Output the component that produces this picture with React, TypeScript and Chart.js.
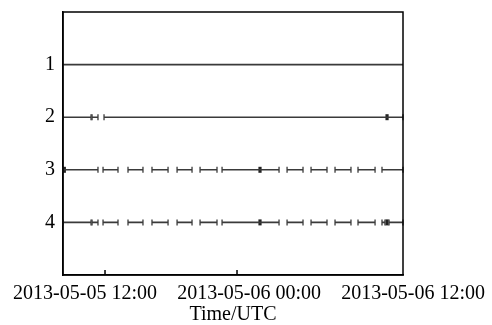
import React, { useEffect, useRef } from "react";
import { Chart, registerables } from "chart.js";

Chart.register(...registerables);

// Time values are hours since 2013-05-05 00:00 UTC
const xMin = 8.18;
const xMax = 39.09;
const xTickMarkHours = [12, 24];
const xLabelHours = [12, 24, 36];
// the reference prints its date labels on a slightly different spacing than its tick marks
const labelAxisMin = 10.39;
const labelAxisMax = 35.26;
const yTickValues = [1, 2, 3, 4];
const seriesNames = ["1", "2", "3", "4"];

const series1Segments = [[8.18, 39.09]];
const series2Segments = [[8.18, 10.73], [10.82, 11.36], [11.91, 39.09]];
const series3Segments = [
  [8.18, 11.36], [11.82, 13.18], [14.09, 15.45], [16.27, 17.73], [18.55, 19.91],
  [20.64, 22.18], [22.64, 27.82], [28.55, 30.0], [30.73, 32.18], [32.91, 34.36],
  [35.0, 36.55], [37.18, 39.09],
];
const series4Segments = [
  [8.18, 10.73], [10.82, 11.36], [11.82, 13.18], [14.09, 15.45], [16.27, 17.73],
  [18.55, 19.91], [20.64, 22.18], [22.64, 27.82], [28.55, 30.0], [30.73, 32.18],
  [32.91, 34.36], [35.0, 36.55], [37.18, 37.45], [37.82, 39.09],
];
const series1Marks: number[] = [];
const series2Marks = [37.64];
const series3Marks = [8.3, 26.09];
const series4Marks = [26.09, 37.64];

const allSegments = [series1Segments, series2Segments, series3Segments, series4Segments];
const allMarks = [series1Marks, series2Marks, series3Marks, series4Marks];

const pad2 = (n: number) => String(n).padStart(2, "0");
const formatHour = (h: number) => {
  const day = 5 + Math.floor(h / 24);
  const hh = Math.round(h % 24);
  return `2013-05-${pad2(day)} ${pad2(hh)}:00`;
};

const LINE_COLOR = "#3a3a3a";
const FONT = { family: "'Liberation Serif', 'Times New Roman', serif", size: 20 };

const frameAndTicks = {
  id: "frameAndTicks",
  afterDraw(chart: any) {
    const { ctx, chartArea } = chart;
    const xs = chart.scales.x;
    ctx.save();
    ctx.strokeStyle = "#000";
    ctx.lineWidth = 1.5;
    ctx.strokeRect(chartArea.left, chartArea.top, chartArea.right - chartArea.left, chartArea.bottom - chartArea.top);
    ctx.beginPath();
    xTickMarkHours.forEach((h) => {
      const px = xs.getPixelForValue(h);
      ctx.moveTo(px, chartArea.bottom);
      ctx.lineTo(px, chartArea.bottom - 5);
    });
    ctx.stroke();
    ctx.restore();
  },
};

export default function App() {
  const ref = useRef<HTMLCanvasElement>(null);
  useEffect(() => {
    document.body.style.margin = "0";
    const datasets: any[] = [];
    allSegments.forEach((segs, k) => {
      const y = k + 1;
      const data: any[] = [];
      segs.forEach((s, i) => {
        data.push({ x: s[0], y });
        data.push({ x: s[1], y });
        if (i < segs.length - 1) data.push({ x: (s[1] + segs[i + 1][0]) / 2, y: null });
      });
      datasets.push({
        label: seriesNames[k],
        data,
        borderColor: LINE_COLOR,
        borderWidth: 1.6,
        spanGaps: false,
        pointStyle: "line",
        rotation: 90,
        pointRadius: k === 0 ? 0 : 3,
        pointBorderWidth: 1.3,
        pointBorderColor: LINE_COLOR,
        pointBackgroundColor: LINE_COLOR,
        clip: false,
      });
    });
    allMarks.forEach((marks, k) => {
      if (!marks.length) return;
      datasets.push({
        label: seriesNames[k] + " marks",
        data: marks.map((x) => ({ x, y: k + 1 })),
        showLine: false,
        pointStyle: "line",
        rotation: 90,
        pointRadius: 3,
        pointBorderWidth: 3.2,
        pointBorderColor: "#222",
        clip: false,
      });
    });
    const chart = new Chart(ref.current!, {
      type: "line",
      data: { datasets },
      options: {
        animation: false,
        responsive: false,
        maintainAspectRatio: false,
        layout: { padding: { top: 12, right: 89, left: 0, bottom: 0 } },
        plugins: { legend: { display: false }, tooltip: { enabled: false } },
        scales: {
          x: {
            type: "linear",
            position: "bottom",
            min: xMin,
            max: xMax,
            afterBuildTicks: (axis: any) => {
              axis.ticks = xTickMarkHours.map((v) => ({ value: v }));
            },
            afterFit: (axis: any) => {
              axis.height = 0;
              axis.paddingLeft = 0;
              axis.paddingRight = 0;
            },
            grid: { display: false, drawTicks: false },
            border: { display: true, color: "#000", width: 1.5 },
            ticks: { display: false },
          },
          xl: {
            type: "linear",
            position: "bottom",
            min: labelAxisMin,
            max: labelAxisMax,
            afterBuildTicks: (axis: any) => {
              axis.ticks = xLabelHours.map((v) => ({ value: v }));
            },
            afterFit: (axis: any) => {
              axis.height = 50;
              axis.paddingLeft = 0;
              axis.paddingRight = 0;
            },
            grid: { display: false, drawTicks: false },
            border: { display: false },
            ticks: {
              color: "#000",
              font: FONT,
              padding: 7,
              maxRotation: 0,
              autoSkip: false,
              callback: (v: any) => formatHour(Number(v)),
            },
            title: { display: true, text: "Time/UTC", color: "#000", font: FONT, padding: { top: 0, bottom: -2 } },
          },
          y: {
            type: "linear",
            min: 0,
            max: 5,
            reverse: true,
            afterBuildTicks: (axis: any) => {
              axis.ticks = yTickValues.map((v) => ({ value: v }));
            },
            afterFit: (axis: any) => {
              axis.width = 63;
              axis.paddingTop = 0;
              axis.paddingBottom = 0;
            },
            grid: { display: false, drawTicks: false },
            border: { display: true, color: "#000", width: 1.5 },
            ticks: { color: "#000", font: FONT, padding: 8 },
          },
        },
      },
      plugins: [frameAndTicks],
    } as any);
    return () => chart.destroy();
  }, []);
  return (
    <div style={{ width: 492, height: 325 }}>
      <canvas ref={ref} width={492} height={325} style={{ display: "block" }} />
    </div>
  );
}
